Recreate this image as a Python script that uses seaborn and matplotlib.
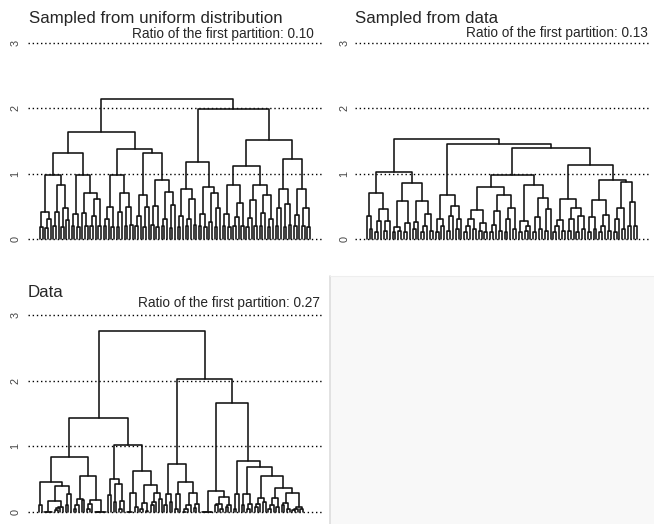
import matplotlib
matplotlib.use("Agg")
import matplotlib.pyplot as plt
import pandas as pd
import seaborn as sns
from matplotlib.patches import Rectangle
from matplotlib.lines import Line2D

sns.set_style("white")
plt.rcParams['font.family'] = ['Liberation Sans', 'DejaVu Sans']

# panel texts
titles = ["Sampled from uniform distribution", "Sampled from data", "Data"]
ratios = ["0.10", "0.13", "0.27"]
y_ticks = [0, 1, 2, 3]

# dendrograms, as nested "(left,right)height" strings, x = one leaf
uniform_LL = ("((((x,x)0.19,((x,x)0.17,x)0.31)0.41,(((x,x)0.2,x)0.41,((x,x)0.19,(x,x)0.29)0.48)0.82)0.98,"
              "(((x,x)0.2,(x,x)0.18)0.39,((x,(x,x)0.2)0.4,(((x,x)0.2,x)0.35,(x,x)0.2)0.61)0.71)0.98)1.32")
uniform_LR = ("(((((x,x)0.2,x)0.3,(x,x)0.19)0.49,(((x,x)0.18,x)0.41,((x,x)0.2,(x,x)0.22)0.49)0.70)0.98,"
              "((((x,x)0.2,x)0.35,((x,x)0.19,x)0.49)0.67,(((x,x)0.21,(x,x)0.18)0.5,"
              "(((x,x)0.2,x)0.3,((x,x)0.17,x)0.52)0.72)0.91)1.32)1.38")
uniform_RL = ("((((x,x)0.19,x)0.35,(((x,x)0.2,x)0.3,(x,x)0.22)0.61)0.77,"
              "(((x,x)0.2,(x,x)0.19)0.39,((x,x)0.26,((x,x)0.18,x)0.47)0.70)0.79)1.18")
uniform_RR = ("(((((x,x)0.2,(x,x)0.18)0.39,(((x,x)0.2,x)0.33,(x,x)0.2)0.55)0.82,"
              "((((x,x)0.19,x)0.32,(x,x)0.2)0.60,(((x,x)0.2,x)0.4,((x,x)0.18,x)0.3)0.67)0.82)1.12,"
              "((((x,x)0.2,x)0.47,((x,x)0.19,(x,x)0.21)0.53)0.76,"
              "(((x,x)0.2,x)0.37,((x,x)0.2,(x,x)0.18)0.47)0.77)1.22)1.52")
tree_uniform = "((" + uniform_LL + "," + uniform_LR + ")1.64,(" + uniform_RL + "," + uniform_RR + ")1.99)2.14"

sampled_L = ("(((x,(x,x)0.15)0.35,(((x,x)0.1,x)0.28,((x,x)0.12,x)0.28)0.46)0.70,"
             "((((x,x)0.1,(x,x)0.12)0.19,((x,x)0.1,x)0.25)0.58,"
             "(((x,x)0.15,x)0.26,(((x,x)0.1,x)0.2,(x,x)0.12)0.39)0.58)0.85)1.03")
sampled_Q = "(((x,x)0.1,(x,x)0.2)0.3,(((x,x)0.12,x)0.35,((x,x)0.15,x)0.3)0.51)0.67"
sampled_S = ("((((((x,x)0.1,x)0.2,(x,x)0.15)0.3,((x,x)0.12,(x,x)0.1)0.25)0.44,"
             "((((x,x)0.1,x)0.22,(x,x)0.12)0.43,(((x,x)0.1,x)0.3,(x,x)0.15)0.48)0.67)0.80,"
             "(((x,x)0.1,((x,x)0.12,x)0.2)0.27,(((x,x)0.1,(x,x)0.15)0.33,((x,x)0.12,x)0.46)0.63)0.83)0.98")
sampled_U = ("(((((x,x)0.1,x)0.2,(x,x)0.12)0.29,(((x,x)0.12,x)0.3,((x,x)0.1,(x,x)0.15)0.35)0.48)0.61,"
             "((((x,x)0.1,(x,x)0.15)0.33,(((x,x)0.1,x)0.2,(x,x)0.12)0.36)0.6,"
             "((((x,x)0.1,x)0.3,(x,x)0.15)0.48,((x,x)0.2,(x,x)0.2)0.57)0.87)0.91)1.14")
tree_sampled = "(" + sampled_L + ",(" + sampled_Q + ",(" + sampled_S + "," + sampled_U + ")1.39)1.45)1.53"

data_A1 = ("(((x,x)0.10,((((x,x)0,(x,x)0)0,(((x,x)0.03,x)0.06,x)0.08)0.17,((x,x)0.1,x)0.27)0.40)0.46,"
           "((((x,x)0.05,x)0.1,(x,x)0.18)0.2,(((x,x)0.05,x)0.12,(((x,x)0,x)0,(x,x)0)0)0.19)0.55)0.84")
data_A2 = ("(((x,x)0.26,((x,x)0.15,((x,x)0.05,x)0.16)0.42)0.50,"
           "((((x,x)0,x)0,(x,x)0.08)0.29,(((x,x)0.05,(x,x)0.02)0.13,(((x,x)0.1,x)0.15,(x,x)0.2)0.29)0.41)0.63)1.02")
data_B1 = ("(((x,x)0.1,(x,x)0.15)0.27,(((x,x)0.05,x)0.27,((((x,x)0,x)0.05,x)0.1,((x,x)0.06,x)0.12)0.29)0.45)0.73")
data_B2 = ("(((((x,x)0,x)0,(x,x)0)0,(((x,x)0.1,(x,x)0.05)0.12,((x,x)0.08,x)0.1)0.23)0.32,"
           "(((x,x)0.05,x)0.27,(((x,x)0.1,((x,x)0.05,x)0.12)0.27,((((x,x)0.08,x)0.12,(x,x)0.15)0.21,"
           "((((x,x)0.05,x)0.1,(x,x)0.08)0.21,(((x,x)0.1,(x,x)0.05)0.13,(((x,x)0.03,x)0.05,(x,x)0.04)0.08)0.29)0.36)0.55)0.69)0.77)1.66")
tree_data = "((" + data_A1 + "," + data_A2 + ")1.43,(" + data_B1 + "," + data_B2 + ")2.02)2.75"

trees = [tree_uniform, tree_sampled, tree_data]


def parse(s):
    s = s.replace(" ", "")
    pos = 0

    def node():
        nonlocal pos
        if s[pos] == "x":
            pos += 1
            return None
        pos += 1  # (
        left = node()
        pos += 1  # ,
        right = node()
        pos += 1  # )
        j = pos
        while pos < len(s) and (s[pos].isdigit() or s[pos] == "."):
            pos += 1
        return (left, right, float(s[j:pos]))
    return node()


def segments(tree):
    rows = []
    n = [0]

    def walk(t):
        if t is None:
            x = n[0]
            n[0] += 1
            return x, 0.0
        l, r, h = t
        xl, hl = walk(l)
        xr, hr = walk(r)
        k = len(rows) // 4
        for px, py in [(xl, hl), (xl, h), (xr, h), (xr, hr)]:
            rows.append({"x": px, "y": py, "seg": k})
        return (xl + xr) / 2, h
    walk(tree)
    return pd.DataFrame(rows), n[0]


W, H = 654, 524
fig = plt.figure(figsize=(W / 100, H / 100), dpi=100)

# empty fourth panel
fig.patches.append(Rectangle((330 / W, 0), 324 / W, 1 - 276 / H, transform=fig.transFigure,
                             facecolor="#f8f8f8", edgecolor="none", zorder=0))
fig.lines.append(Line2D([330.5 / W, 330.5 / W], [0, 1 - 276 / H], transform=fig.transFigure,
                        color="#dddddd", lw=1.2))
fig.lines.append(Line2D([330 / W, 1], [1 - 276 / H, 1 - 276 / H], transform=fig.transFigure,
                        color="#eeeeee", lw=0.8))

# pixel layout of each panel: dotted x-extent, y of 0 and 3, first/last leaf, text positions
panels = [
    dict(x0=28, x1=322, y0=239, y3=43, l0=40, l1=310, tx=29, ty=23, rx=314, ry=38, kx=15),
    dict(x0=355, x1=651, y0=239, y3=43, l0=366.7, l1=636.7, tx=355, ty=23, rx=648, ry=37.5, kx=344),
    dict(x0=28, x1=322, y0=512, y3=315, l0=39, l1=303, tx=28, ty=297, rx=320, ry=307, kx=15),
]

for p, tree, title, ratio in zip(panels, trees, titles, ratios):
    df, n = segments(parse(tree))
    k = (p["y0"] - p["y3"]) / 3
    pad = 0.08
    top = p["y3"] - pad * k
    bot = p["y0"] + pad * k
    ax = fig.add_axes([p["x0"] / W, 1 - bot / H, (p["x1"] - p["x0"]) / W, (bot - top) / H])
    ax.patch.set_alpha(0)
    upp = (n - 1) / (p["l1"] - p["l0"])
    ax.set_xlim((p["x0"] - p["l0"]) * upp, (p["x1"] - p["l0"]) * upp)
    ax.set_ylim(-pad, 3 + pad)
    for v in y_ticks:
        ax.axhline(v, color="black", lw=1.0, ls=(0, (1, 2)), zorder=1)
    sns.lineplot(data=df, x="x", y="y", units="seg", estimator=None, sort=False,
                 color="#111111", lw=1.15, ax=ax, zorder=2, legend=False)
    ax.set_xlabel("")
    ax.set_ylabel("")
    ax.set_xticks([])
    ax.set_yticks(y_ticks)
    ax.set_yticklabels([str(v) for v in y_ticks], rotation=90, va="center",
                       fontsize=7.8, color="#444444")
    ax.tick_params(axis="y", length=0, pad=(p["x0"] - p["kx"]) * 0.72 - 4)
    sns.despine(ax=ax, left=True, bottom=True)

    fig.text(p["tx"] / W, 1 - p["ty"] / H, title, fontsize=12.2, ha="left", va="baseline")
    fig.text(p["rx"] / W, 1 - p["ry"] / H, "Ratio of the first partition: " + ratio,
             fontsize=9.8, ha="right", va="baseline")

fig.savefig("out.png", dpi=100)
